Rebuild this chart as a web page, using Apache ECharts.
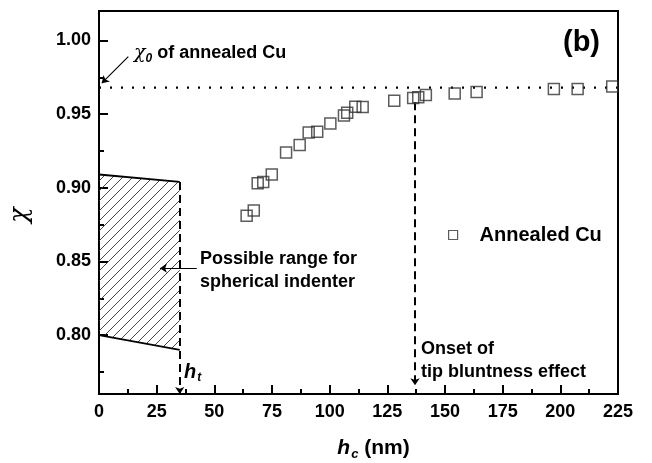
<!DOCTYPE html>
<html>
<head>
<meta charset="utf-8">
<script src="https://cdn.jsdelivr.net/npm/echarts@6/dist/echarts.min.js"></script>
<style>
  html, body { margin: 0; padding: 0; background: #fff; }
  #chart { width: 652px; height: 463px; }
</style>
</head>
<body>
<div id="chart"></div>
<script>
// measured points, annealed Cu
const hcVals  = [64.0, 67.1, 68.8, 71.2, 74.9, 81.1, 87.0, 90.9, 94.6, 100.3, 106.2, 107.6, 111.1, 114.3, 128.0, 136.2, 138.4, 141.7, 154.2, 163.7, 197.2, 207.5, 222.5]
const chiVals = [0.881, 0.8845, 0.903, 0.904, 0.909, 0.924, 0.929, 0.9375, 0.938, 0.9436, 0.949, 0.951, 0.955, 0.9548, 0.959, 0.961, 0.9615, 0.963, 0.964, 0.965, 0.967, 0.967, 0.9688]

// chi0 of annealed Cu
const chi0 = 0.968
// spherical indenter range (hatched)
const hatchX = [0, 35, 35, 0]
const hatchY = [0.909, 0.904, 0.790, 0.800]
const htVal = 35
const onsetVal = 137

const yTicks = [0.80, 0.85, 0.90, 0.95, 1.00]
const yMinorTicks = [0.775, 0.825, 0.875, 0.925, 0.975]

const font = 'Liberation Sans, Arial, sans-serif'

// hatch pattern
const pc = document.createElement('canvas')
pc.width = 10; pc.height = 10
const pctx = pc.getContext('2d')
pctx.strokeStyle = '#333'
pctx.lineWidth = 0.9
pctx.beginPath()
pctx.moveTo(0, 10); pctx.lineTo(10, 0)
pctx.moveTo(-1, 1); pctx.lineTo(1, -1)
pctx.moveTo(9, 11); pctx.lineTo(11, 9)
pctx.stroke()

const chart = echarts.init(document.getElementById('chart'))

const arrowLine = (coords, dashed) => ({
  type: 'lines',
  coordinateSystem: 'cartesian2d',
  symbol: ['none', 'arrow'],
  symbolSize: 7,
  silent: true,
  lineStyle: { color: '#000', width: dashed ? 2 : 1.1, type: dashed ? [8, 5] : 'solid', opacity: 1 },
  data: [{ coords: coords }]
})

const option = {
  animation: false,
  backgroundColor: '#fff',
  grid: { left: 99, right: 34, top: 11, bottom: 69, outerBoundsMode: 'none', show: true, borderColor: '#000', borderWidth: 2 },
  xAxis: {
    type: 'value', min: 0, max: 225, interval: 25,
    axisLine: { lineStyle: { color: '#000', width: 2 } },
    axisTick: { inside: true, length: 9, lineStyle: { width: 2 } },
    minorTick: { show: true, splitNumber: 2, length: 5, lineStyle: { color: '#000', width: 2 } },
    splitLine: { show: false },
    axisLabel: { margin: 9, color: '#000', fontSize: 18, fontWeight: 'bold', fontFamily: font },
    name: '{i|h}{s|c}{n| (nm)}',
    nameLocation: 'middle', nameGap: 42,
    nameTextStyle: {
      padding: [0, 0, 0, 30],
      rich: {
        i: { fontSize: 21, fontWeight: 'bold', fontStyle: 'italic', fontFamily: font, color: '#000' },
        s: { fontSize: 13, fontWeight: 'bold', fontStyle: 'italic', fontFamily: font, color: '#000', padding: [12, 0, 0, 1] },
        n: { fontSize: 21, fontWeight: 'bold', fontFamily: font, color: '#000' }
      }
    }
  },
  yAxis: [{
    type: 'value', min: 0.76, max: 1.02, position: 'left',
    axisLine: { lineStyle: { color: '#000', width: 2 } },
    axisTick: { inside: true, length: 9, customValues: yTicks, lineStyle: { width: 2 } },
    splitLine: { show: false },
    axisLabel: {
      customValues: yTicks, margin: 8, color: '#000', fontSize: 18, fontWeight: 'bold', fontFamily: font,
      formatter: v => v.toFixed(2)
    },
    name: 'χ', nameLocation: 'middle', nameGap: 66, nameRotate: 90,
    nameTextStyle: { fontSize: 26, fontStyle: 'italic', fontFamily: 'DejaVu Serif, serif', color: '#000', padding: [0, 25, 0, 0] }
  }, {
    type: 'value', min: 0.76, max: 1.02, position: 'left', offset: 0,
    axisLine: { show: false },
    axisTick: { inside: true, length: 5, customValues: yMinorTicks, lineStyle: { color: '#000', width: 2 } },
    axisLabel: { show: false },
    splitLine: { show: false }
  }],
  legend: {
    left: 443, top: 220,
    itemWidth: 9, itemHeight: 9,
    itemStyle: { color: 'rgba(0,0,0,0)', borderColor: '#333', borderWidth: 1.2 },
    textStyle: { fontSize: 20, fontWeight: 'bold', fontFamily: font, color: '#000', padding: [0, 0, 0, 17] },
    data: [{ name: 'Annealed Cu', icon: 'rect' }]
  },
  series: [
    {
      type: 'custom',
      silent: true,
      renderItem: (params, api) => {
        const pts = hatchX.map((x, i) => api.coord([x, hatchY[i]]))
        return { type: 'polygon', shape: { points: pts }, style: { fill: { image: pc, repeat: 'repeat' } } }
      },
      data: [[0, 0.9]],
      z: 1
    },
    {
      type: 'line', silent: true, symbol: 'none',
      lineStyle: { color: '#000', width: 1.8 },
      data: [[hatchX[0], hatchY[0]], [hatchX[1], hatchY[1]]]
    },
    {
      type: 'line', silent: true, symbol: 'none',
      lineStyle: { color: '#000', width: 1.8 },
      data: [[hatchX[3], hatchY[3]], [hatchX[2], hatchY[2]]]
    },
    {
      type: 'line', silent: true, symbol: 'none',
      lineStyle: { color: '#000', width: 2.2, type: [2, 9] },
      data: [[0, chi0], [225, chi0]]
    },
    arrowLine([[htVal, hatchY[1]], [htVal, 0.76]], true),
    arrowLine([[onsetVal, 0.958], [onsetVal, 0.766]], true),
    arrowLine([[12.7, 0.989], [1.2, 0.971]], false),
    arrowLine([[42.4, 0.8454], [26.4, 0.8454]], false),
    {
      name: 'Annealed Cu',
      type: 'scatter',
      symbol: 'rect',
      symbolSize: 11,
      itemStyle: { color: 'rgba(0,0,0,0)', borderColor: '#333', borderWidth: 1.5 },
      data: hcVals.map((x, i) => [x, chiVals[i]]),
      z: 5
    }
  ],
  graphic: [
    {
      type: 'text', left: 563, top: 28,
      style: { text: '(b)', font: 'bold 29px ' + font, fill: '#000' }
    },
    {
      type: 'text', left: 134, top: 44,
      style: {
        text: '{c|χ}{s|0}{t| of annealed Cu}',
        rich: {
          c: { font: 'italic 19px DejaVu Serif, serif', fill: '#000' },
          s: { font: 'italic bold 12px ' + font, fill: '#000', padding: [10, 0, 0, 0] },
          t: { font: 'bold 18px ' + font, fill: '#000' }
        }
      }
    },
    {
      type: 'text', left: 200, top: 248,
      style: { text: 'Possible range for\nspherical indenter', font: 'bold 18px ' + font, lineHeight: 23, fill: '#000' }
    },
    {
      type: 'text', left: 421, top: 338,
      style: { text: 'Onset of\ntip bluntness effect', font: 'bold 18px ' + font, lineHeight: 23, fill: '#000' }
    },
    {
      type: 'text', left: 184, top: 362,
      style: {
        text: '{h|h}{s|t}',
        rich: {
          h: { font: 'italic bold 20px ' + font, fill: '#000' },
          s: { font: 'italic bold 12px ' + font, fill: '#000', padding: [12, 0, 0, 1] }
        }
      }
    }
  ]
}

chart.setOption(option)
</script>
</body>
</html>
